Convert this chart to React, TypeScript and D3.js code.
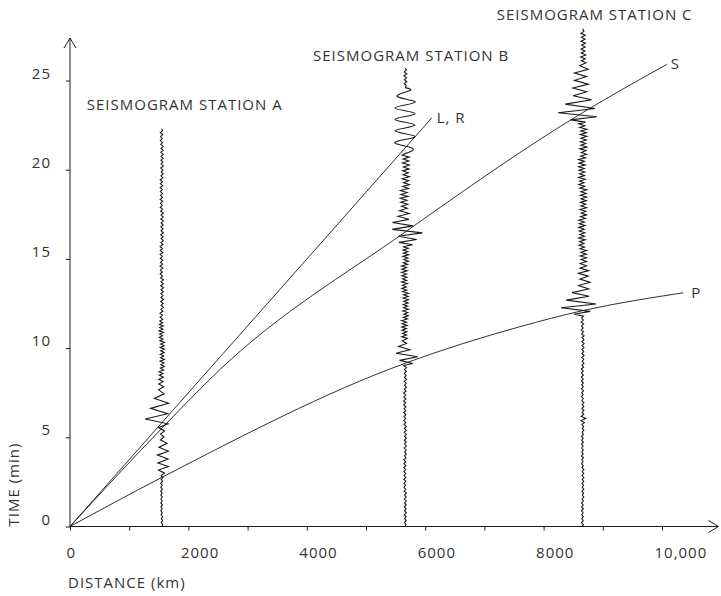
import { useEffect, useRef } from 'react';
import * as d3 from 'd3';

// axis ticks
const xTickValues = [0, 1000, 2000, 3000, 4000, 5000, 6000, 7000, 8000, 9000, 10000];
const xLabelValues = [0, 2000, 4000, 6000, 8000, 10000];
const yTickValues = [0, 5, 10, 15, 20, 25];

// travel-time curves: [distance km, time min]
const pWave: [number, number][] = [[0, 0], [1550, 2.75], [5660, 9.15], [7600, 11.2], [8660, 12.1], [10360, 13.1]];
const sWave: [number, number][] = [[0, 0], [1550, 5.5], [2534, 8.8], [5660, 16.5], [8660, 23.2], [10080, 25.9]];
const lrWave: [number, number][] = [[0, 0], [6110, 22.9]];

// stations
const stationNames = ['SEISMOGRAM STATION A', 'SEISMOGRAM STATION B', 'SEISMOGRAM STATION C'];
const stationDistances = [1550, 5660, 8660];

// seismogram envelopes: [time min, amplitude km, half period min]
type Piece = { smooth: boolean; env: [number, number, number][] };

const stationA: Piece[] = [
  { smooth: false, env: [
    [0, 15, 0.11], [2.8, 20, 0.11], [3.0, 60, 0.18], [3.6, 150, 0.22], [4.6, 110, 0.22],
    [4.8, 40, 0.15], [5.5, 50, 0.2], [5.9, 300, 0.3], [6.4, 280, 0.3], [7.3, 100, 0.25],
    [7.8, 60, 0.15], [8.5, 45, 0.1], [11.3, 45, 0.09], [11.6, 30, 0.11], [22.3, 25, 0.11],
  ] },
];

const stationB: Piece[] = [
  { smooth: false, env: [
    [0, 20, 0.11], [9.0, 25, 0.11], [9.2, 200, 0.2], [9.7, 220, 0.2], [10.3, 60, 0.15],
    [10.6, 55, 0.09], [15.6, 60, 0.09], [16.0, 200, 0.18], [16.6, 320, 0.2], [17.6, 100, 0.15],
    [17.9, 80, 0.11], [20.9, 70, 0.11],
  ] },
  { smooth: true, env: [[20.9, 50, 0.32], [21.5, 170, 0.32], [23.9, 170, 0.32], [24.6, 40, 0.32]] },
  { smooth: false, env: [[24.6, 30, 0.11], [25.7, 30, 0.11]] },
];

const stationC: Piece[] = [
  { smooth: false, env: [
    [0, 20, 0.11], [5.8, 20, 0.11], [6.0, 80, 0.12], [6.3, 20, 0.11], [11.8, 25, 0.11],
    [12.0, 300, 0.2], [12.4, 400, 0.22], [13.2, 150, 0.2], [14.2, 110, 0.15], [15, 65, 0.1],
    [22.6, 70, 0.1], [22.9, 350, 0.22], [23.5, 480, 0.25], [24.1, 180, 0.22], [25.7, 130, 0.2],
    [26, 55, 0.11], [27.9, 40, 0.11],
  ] },
];

const stations = [stationA, stationB, stationC];

// irregularity of the wiggles
const jitter = [1, 0.6, 0.9, 0.45, 1, 0.7, 0.5, 0.95, 0.35, 0.8, 0.65, 1, 0.45, 0.75, 0.55, 0.9, 0.4];

export default function App() {
  const chartRef = useRef<SVGSVGElement>(null);

  useEffect(() => {
    if (!chartRef.current) return;
    d3.select(chartRef.current).selectAll('*').remove();

    const width = 721;
    const height = 596;
    const font = "'Open Sans', 'Noto Sans', sans-serif";
    const ink = '#1a1a1a';
    const textColor = '#333';
    const fontSize = '15px';
    const spacing = '1px';

    const x = d3.scaleLinear().domain([0, 10000]).range([70, 662]);
    const y = d3.scaleLinear().domain([0, 25]).range([526.5, 80.5]);

    const svg = d3.select(chartRef.current)
      .attr('viewBox', [0, 0, width, height])
      .attr('width', width)
      .attr('height', height)
      .style('font-family', font);

    svg.append('rect').attr('width', width).attr('height', height).attr('fill', 'white');

    // x axis
    const xAxis = svg.append('g')
      .attr('transform', `translate(0,${y(0)})`)
      .call(d3.axisBottom(x).tickValues(xTickValues).tickSizeOuter(0).tickSize(4)
        .tickFormat(d => xLabelValues.includes(+d) ? (+d === 10000 ? '10,000' : String(d)) : ''));
    xAxis.select('.domain').remove();
    xAxis.selectAll('line').attr('stroke', ink);
    xAxis.selectAll('text')
      .attr('text-anchor', 'start')
      .attr('x', d => (+d === 0 ? -4 : -8))
      .attr('y', 31)
      .attr('dy', 0)
      .attr('fill', textColor)
      .style('font-size', fontSize)
      .style('letter-spacing', spacing)
      .style('font-family', font);

    // y axis
    const yAxis = svg.append('g')
      .attr('transform', `translate(${x(0)},0)`)
      .call(d3.axisLeft(y).tickValues(yTickValues).tickSize(4).tickSizeOuter(0));
    yAxis.select('.domain').remove();
    yAxis.selectAll('line').attr('stroke', ink);
    yAxis.selectAll('text')
      .attr('x', -19)
      .attr('y', -2.5)
      .attr('dy', 0)
      .attr('fill', textColor)
      .style('font-size', fontSize)
      .style('letter-spacing', spacing)
      .style('font-family', font);

    // axis lines with open arrow heads
    const axes = svg.append('g').attr('fill', 'none').attr('stroke', ink).attr('stroke-width', 1);
    axes.append('path').attr('d', `M${x(0)},${y(0)}H718.5`);
    axes.append('path').attr('d', `M708.5,${y(0) - 6}L718.5,${y(0)}L708.5,${y(0) + 6}`);
    axes.append('path').attr('d', `M${x(0)},${y(0)}V38`);
    axes.append('path').attr('d', `M${x(0) - 6},48L${x(0)},38L${x(0) + 6},48`);

    // axis titles
    svg.append('text')
      .attr('x', 68)
      .attr('y', 588)
      .attr('fill', textColor)
      .style('font-size', fontSize)
      .style('letter-spacing', spacing)
      .text('DISTANCE (km)');

    svg.append('text')
      .attr('transform', `translate(19,${y(0)}) rotate(-90)`)
      .attr('fill', textColor)
      .style('font-size', fontSize)
      .style('letter-spacing', spacing)
      .text('TIME (min)');

    // seismograms
    const line = d3.line<[number, number]>().x(d => x(d[0])).y(d => y(d[1]));
    stations.forEach((pieces, si) => {
      const dist = stationDistances[si];
      pieces.forEach(piece => {
        const ts = piece.env.map(e => e[0]);
        const amp = d3.scaleLinear().domain(ts).range(piece.env.map(e => e[1])).clamp(true);
        const step = d3.scaleLinear().domain(ts).range(piece.env.map(e => e[2])).clamp(true);
        const t0 = ts[0];
        const t1 = ts[ts.length - 1];
        const pts: [number, number][] = [[dist, t0]];
        let t = t0 + step(t0);
        let i = 0;
        while (t < t1 - step(t) * 0.5) {
          const sign = i % 2 === 0 ? 1 : -1;
          const j = piece.smooth ? 1 : jitter[(i + si * 5) % jitter.length];
          pts.push([dist + sign * amp(t) * j, t]);
          t += step(t);
          i++;
        }
        pts.push([dist, t1]);
        svg.append('path')
          .attr('d', line.curve(piece.smooth ? d3.curveNatural : d3.curveLinear)(pts))
          .attr('fill', 'none')
          .attr('stroke', ink)
          .attr('stroke-width', 1.1)
          .attr('stroke-linejoin', 'miter');
      });
    });

    // travel-time curves
    const curve = d3.line<[number, number]>().x(d => x(d[0])).y(d => y(d[1])).curve(d3.curveMonotoneX);
    [pWave, sWave, lrWave].forEach(w => {
      svg.append('path')
        .attr('d', curve(w))
        .attr('fill', 'none')
        .attr('stroke', ink)
        .attr('stroke-width', 0.9);
    });

    const curveLabels: [string, [number, number], number, number][] = [
      ['P', pWave[pWave.length - 1], 8, 5],
      ['S', sWave[sWave.length - 1], 4, 5],
      ['L, R', lrWave[lrWave.length - 1], 5, 5],
    ];
    curveLabels.forEach(([label, end, dx, dy]) => {
      svg.append('text')
        .attr('x', x(end[0]) + dx)
        .attr('y', y(end[1]) + dy)
        .attr('fill', textColor)
        .style('font-size', fontSize)
        .style('letter-spacing', spacing)
        .text(label);
    });

    // station titles
    const titleOffsets = [[-75, 110], [-92, 61], [-86, 20]];
    stationNames.forEach((name, i) => {
      svg.append('text')
        .attr('x', x(stationDistances[i]) + titleOffsets[i][0])
        .attr('y', titleOffsets[i][1])
        .attr('fill', textColor)
        .style('font-size', fontSize)
        .style('letter-spacing', spacing)
        .text(name);
    });
  }, []);

  return (
    <div style={{ position: 'absolute', left: 0, top: 0 }}>
      <svg ref={chartRef}></svg>
    </div>
  );
}
